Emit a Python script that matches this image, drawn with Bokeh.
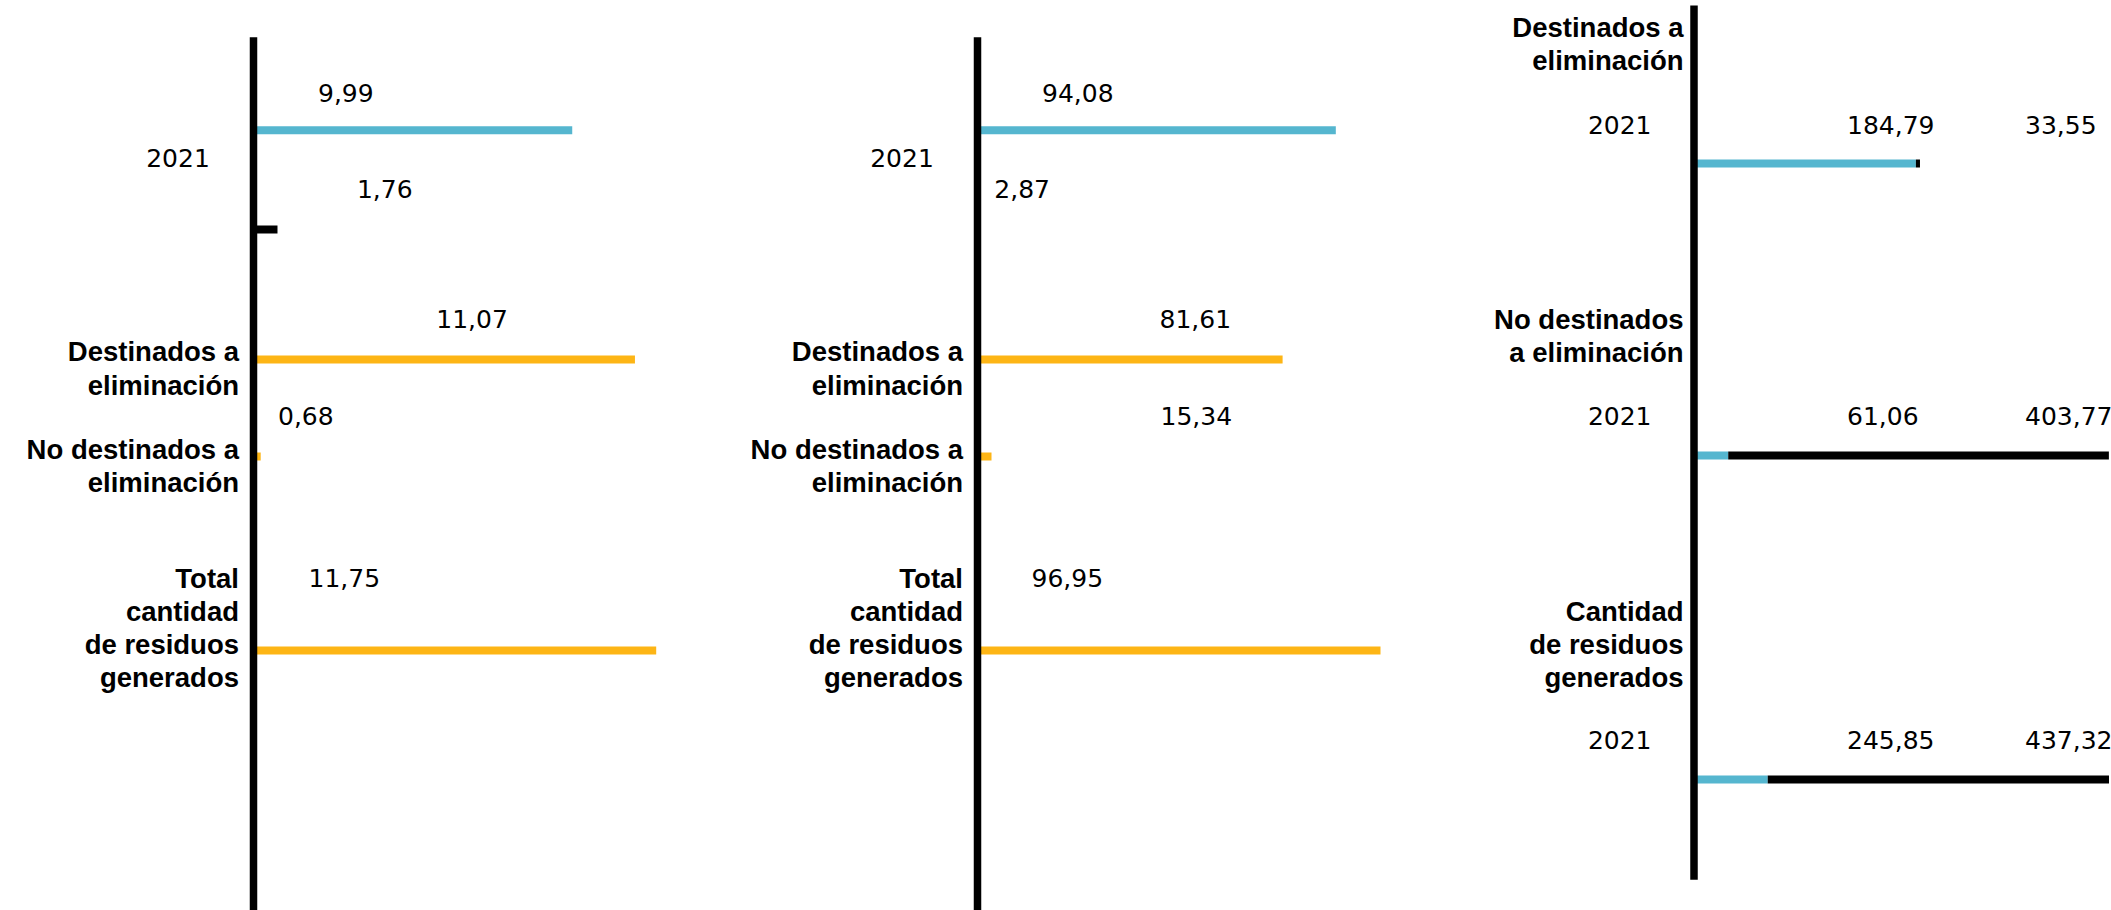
from bokeh.plotting import figure
from bokeh.models import Range1d, ColumnDataSource
from bokeh.core.properties import value
from bokeh.embed import file_html
from bokeh.resources import INLINE

# ---------------- DATA ----------------
YEAR = "2021"

# Panel 1
P1_SERIES_LABELS = ["9,99", "1,76"]          # blue, black
P1_SERIES_BARS = [9.30, 0.70]
P1_CATEGORIES = ["Destinados a\neliminación",
                 "No destinados a\neliminación",
                 "Total\ncantidad\nde residuos\ngenerados"]
P1_CAT_LABELS = ["11,07", "0,68", "11,75"]
P1_CAT_BARS = [11.13, 0.21, 11.75]

# Panel 2
P2_SERIES_LABELS = ["94,08", "2,87"]
P2_SERIES_BARS = [86.2, 0.5]
P2_CATEGORIES = ["Destinados a\neliminación",
                 "No destinados a\neliminación",
                 "Total\ncantidad\nde residuos\ngenerados"]
P2_CAT_LABELS = ["81,61", "15,34", "96,95"]
P2_CAT_BARS = [73.4, 3.37, 96.95]

# Panel 3
P3_CATEGORIES = ["Destinados a\neliminación",
                 "No destinados\na eliminación",
                 "Cantidad\nde residuos\ngenerados"]
P3_BLUE_LABELS = ["184,79", "61,06", "245,85"]
P3_BLACK_LABELS = ["33,55", "403,77", "437,32"]
P3_BLUE_BARS = [184.79, 28.5, 61.4]
P3_BLACK_BARS = [3.4, 317.0, 284.2]

# ---------------- STYLE / LAYOUT ----------------
W, H = 2111, 910
BLUE = "#55b6cf"
ORANGE = "#fdb515"
BLACK = "#000000"
NUM_FONT = "DejaVu Sans"
CAT_FONT = "Liberation Sans"
NUM_SIZE = "25px"
CAT_SIZE = "27.5px"
LINE_GAP = 33.3
BAR_H = 8
AXIS_W = 7.5
TEXT_DY = -9.5

p = figure(width=W, height=H, output_backend="svg", toolbar_location=None,
           x_axis_location=None, y_axis_location=None,
           y_range=Range1d(H, 0), min_border=0)
p.grid.visible = False
p.outline_line_color = None
p.background_fill_color = "white"
p.border_fill_color = "white"


def make_range(axis_px, ppu):
    return Range1d(start=-axis_px / ppu, end=(W - axis_px) / ppu)


# panel scales (pixel position of the axis and pixels per unit)
A1, A2, A3 = 253.0, 977.0, 1693.5
S1 = 402.7 / max(P1_CAT_BARS)
S2 = 403.0 / max(P2_CAT_BARS)
S3 = 1.2008

p.x_range = make_range(A1, S1)
p.extra_x_ranges = {"p2": make_range(A2, S2), "p3": make_range(A3, S3)}


def texts(xs, ys, labels, rng, align, bold=False):
    src = ColumnDataSource(dict(x=xs, y=[y + TEXT_DY for y in ys], text=labels))
    p.text(x="x", y="y", text="text", source=src, x_range_name=rng,
           text_align=align, text_baseline="alphabetic",
           text_font=value(CAT_FONT if bold else NUM_FONT),
           text_font_size=CAT_SIZE if bold else NUM_SIZE,
           text_font_style="bold" if bold else "normal",
           text_color=BLACK)


def multiline(cats, first_baselines, x, rng):
    xs, ys, ls = [], [], []
    for cat, b in zip(cats, first_baselines):
        for i, line in enumerate(cat.split("\n")):
            xs.append(x)
            ys.append(b + i * LINE_GAP)
            ls.append(line)
    texts(xs, ys, ls, rng, "right", bold=True)


def panel_12(rng, scale, s_labels, s_bars, cats, c_labels, c_bars, s_off, c_off):
    # series bars (blue, black)
    s_y = [129.8, 229.0]
    p.hbar(y=s_y, left=0, right=s_bars, height=BAR_H,
           fill_color=[BLUE, BLACK], line_color=None, x_range_name=rng)
    # category bars (orange)
    c_y = [359.0, 456.0, 650.0]
    p.hbar(y=c_y, left=0, right=c_bars, height=BAR_H,
           fill_color=ORANGE, line_color=None, x_range_name=rng)
    # axis line
    p.segment(x0=[0], y0=[36.7], x1=[0], y1=[H + 20], line_width=AXIS_W,
              line_color=BLACK, x_range_name=rng)
    # value labels
    texts([o / scale for o in s_off], [101.7, 198.3], s_labels, rng, "left")
    texts([o / scale for o in c_off], [328.3, 425.0, 587.0], c_labels, rng, "left")
    # year label
    texts([-43.7 / scale], [166.7], [YEAR], rng, "right")
    # category labels
    multiline(cats, [360.7, 458.0, 587.0], -14.5 / scale, rng)


panel_12("default", S1, P1_SERIES_LABELS, P1_SERIES_BARS, P1_CATEGORIES,
         P1_CAT_LABELS, P1_CAT_BARS, [64.5, 103.4], [182.8, 24.5, 55.0])
panel_12("p2", S2, P2_SERIES_LABELS, P2_SERIES_BARS, P2_CATEGORIES,
         P2_CAT_LABELS, P2_CAT_BARS, [64.5, 16.8], [182.0, 183.0, 54.0])

# Panel 3: stacked bars
r3_y = [163.0, 455.0, 779.0]
r3_base = [134.0, 425.0, 749.0]
p.hbar(y=r3_y, left=0, right=P3_BLUE_BARS, height=BAR_H,
       fill_color=BLUE, line_color=None, x_range_name="p3")
p.hbar(y=r3_y, left=P3_BLUE_BARS,
       right=[b + k for b, k in zip(P3_BLUE_BARS, P3_BLACK_BARS)], height=BAR_H,
       fill_color=BLACK, line_color=None, x_range_name="p3")
p.segment(x0=[0], y0=[5.0], x1=[0], y1=[879.3], line_width=AXIS_W,
          line_color=BLACK, x_range_name="p3")
texts([153.0 / S3] * 3, r3_base, P3_BLUE_LABELS, "p3", "left")
texts([331.0 / S3] * 3, r3_base, P3_BLACK_LABELS, "p3", "left")
texts([-42.5 / S3] * 3, r3_base, [YEAR] * 3, "p3", "right")
multiline(P3_CATEGORIES, [36.0, 328.3, 620.0], -10.5 / S3, "p3")

open("out.html", "w").write(file_html(p, INLINE))
